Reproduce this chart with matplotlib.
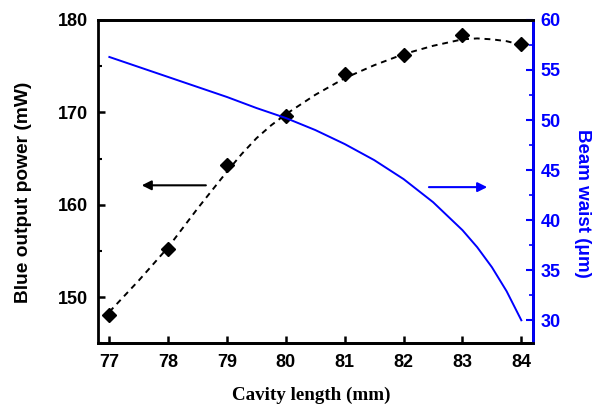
import matplotlib
matplotlib.use('Agg')
import matplotlib.pyplot as plt
from matplotlib.ticker import MultipleLocator

# measured blue output power (mW)
cavity_mm = [77, 78, 79, 80, 81, 82, 83, 84]
power_mw = [148.1, 155.2, 164.3, 169.6, 174.1, 176.2, 178.4, 177.4]

# dashed fit curve
fit_x = [77, 77.5, 78, 78.5, 79, 79.25, 79.5, 79.75, 80, 80.5, 81, 81.5, 82, 82.5, 83,
         83.25, 83.5, 83.75, 84]
fit_mw = [148.4, 151.8, 155.4, 159.6, 163.6, 165.5, 167.2, 168.6, 169.8, 171.9, 173.7,
          175.1, 176.3, 177.2, 177.9, 178.0, 177.9, 177.7, 177.3]

# beam waist (um)
waist_x = [77, 77.5, 78, 78.5, 79, 79.5, 80, 80.5, 81, 81.5, 82, 82.5, 83, 83.25, 83.5,
           83.75, 84]
waist_um = [56.3, 55.3, 54.3, 53.3, 52.3, 51.2, 50.2, 49.0, 47.6, 46.0, 44.1, 41.8, 39.0,
            37.3, 35.3, 32.9, 30.0]

blue = '#0000ff'
sans = 'Liberation Sans'
serif = 'Liberation Serif'

fig = plt.figure(figsize=(5.95, 4.07), dpi=100)
ax = fig.add_axes([0.165, 0.1565, 0.73, 0.7945])
ax2 = ax.twinx()

ax.plot(fit_x, fit_mw, color='black', linestyle=(0, (3, 2.5)), linewidth=1.4, zorder=2)
ax.plot(cavity_mm, power_mw, linestyle='none', marker='D', markersize=7.5,
        color='black', zorder=3)
ax2.plot(waist_x, waist_um, color=blue, linewidth=1.4)

ax.set_xlim(76.81, 84.19)
ax.set_ylim(145, 180)
ax2.set_ylim(27.7, 60)

ax.xaxis.set_major_locator(MultipleLocator(1))
ax.yaxis.set_major_locator(MultipleLocator(10))
ax.yaxis.set_minor_locator(MultipleLocator(5))
ax2.yaxis.set_major_locator(MultipleLocator(5))
ax2.yaxis.set_minor_locator(MultipleLocator(2.5))

for a in (ax, ax2):
    for s in a.spines.values():
        s.set_linewidth(2.0)
ax2.spines['right'].set_color(blue)
ax2.spines['left'].set_visible(False)

ax.tick_params(axis='x', which='major', direction='in', length=5, width=1.8, pad=8,
               labelsize=13)
ax.tick_params(axis='y', which='major', direction='in', length=5, width=1.8, pad=7,
               labelsize=13)
ax.tick_params(axis='y', which='minor', direction='in', length=3, width=1.5)
ax.tick_params(axis='x', top=False)
ax2.tick_params(axis='y', which='major', direction='in', length=5, width=1.5, pad=6,
                labelsize=13, colors=blue)
ax2.tick_params(axis='y', which='minor', direction='in', length=3, width=1.2, colors=blue)

for lab in ax.get_xticklabels() + ax.get_yticklabels() + ax2.get_yticklabels():
    lab.set_fontfamily(sans)
    lab.set_fontweight('bold')

ax.set_xlabel('Cavity length (mm)', fontsize=13.7, fontweight='bold', family=serif)
ax.set_ylabel('Blue output power (mW)', fontsize=13.8, fontweight='bold', family=sans)
ax2.set_ylabel('Beam waist (\u03bcm)', fontsize=13.5, fontweight='bold', family=sans,
               color=blue, rotation=270)
ax.xaxis.set_label_coords(0.49, -0.16)
ax.yaxis.set_label_coords(-0.171, 0.466)
ax2.yaxis.set_label_coords(1.116, 0.434)
for lbl in (ax.xaxis.label, ax.yaxis.label, ax2.yaxis.label):
    lbl.set_verticalalignment('center')
    lbl.set_horizontalalignment('center')

# direction arrows
ax.annotate('', xy=(77.55, 162.1), xytext=(78.64, 162.1),
            arrowprops=dict(arrowstyle='-|>', color='black', lw=1.5,
                            mutation_scale=14, shrinkA=0, shrinkB=0))
ax2.annotate('', xy=(83.42, 43.3), xytext=(82.43, 43.3),
             arrowprops=dict(arrowstyle='-|>', color=blue, lw=1.5,
                             mutation_scale=14, shrinkA=0, shrinkB=0))

plt.savefig('out.png', dpi=100)
plt.close()
